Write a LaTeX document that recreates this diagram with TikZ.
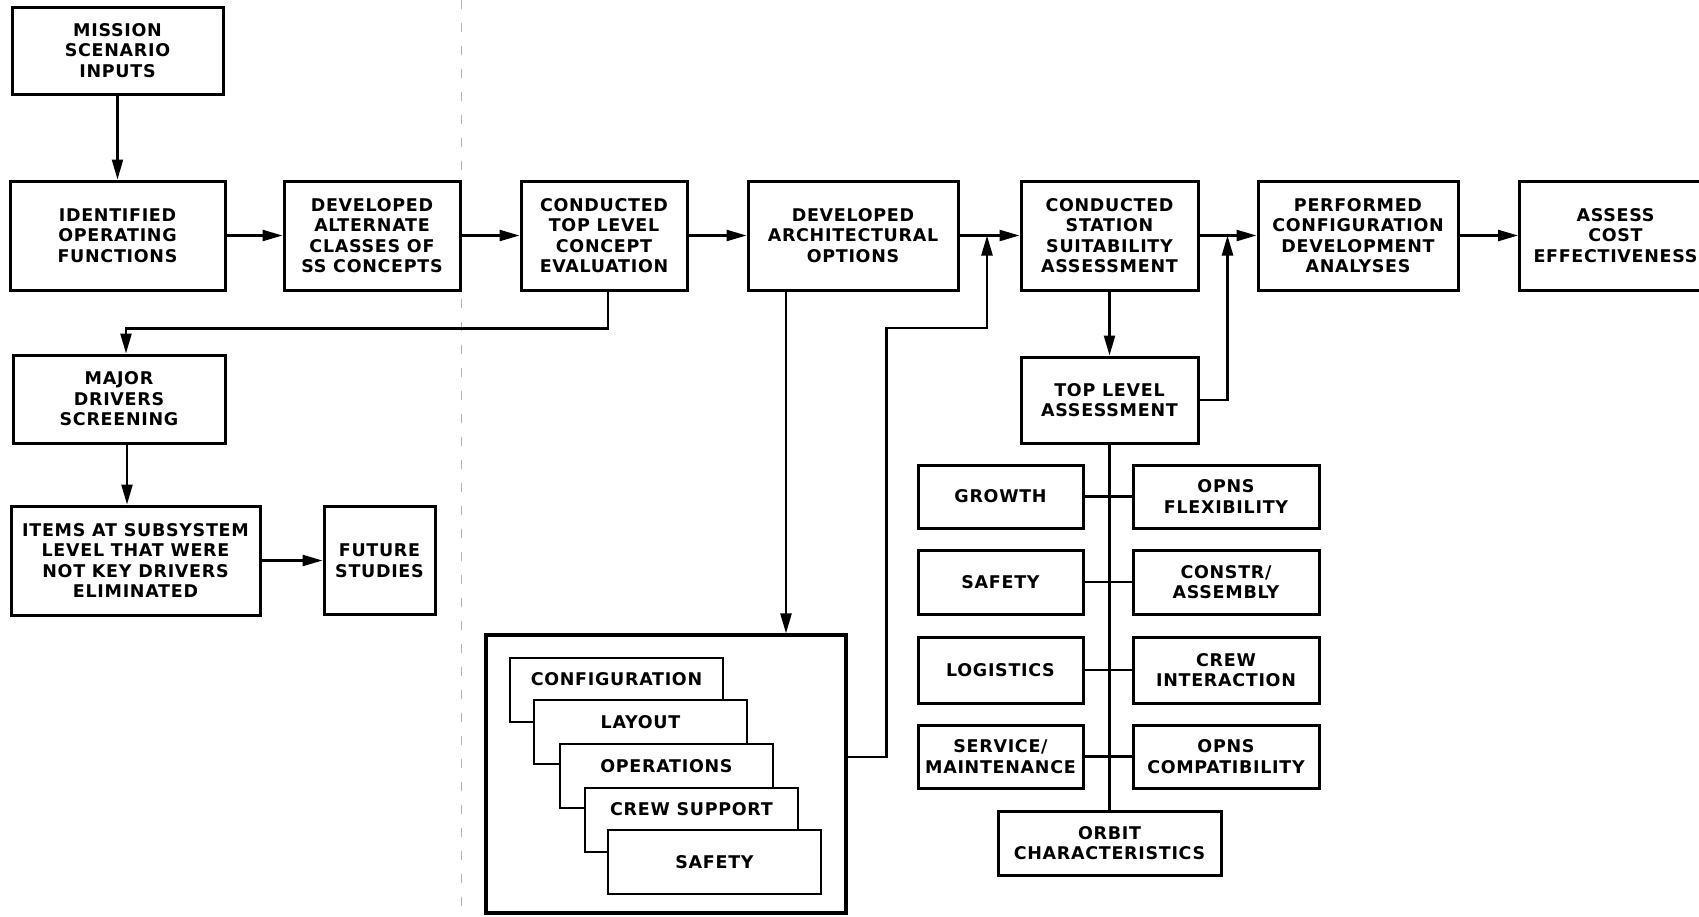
\documentclass[tikz,border=0pt]{standalone}
\usepackage{fontspec}
\setmainfont{DejaVu Sans}[LetterSpace=4]
\usetikzlibrary{arrows.meta}
\newcommand\diagfont{\fontsize{17.5}{20.5}\selectfont\bfseries}
\begin{document}
\begin{tikzpicture}[x=1pt,y=-1pt,
  box/.style={draw, line width=3pt, align=center, inner sep=0pt, font=\diagfont},
  card/.style={draw, line width=2.4pt, fill=white, minimum width=213pt, minimum height=64pt, inner sep=0pt},
  cardtext/.style={font=\diagfont, inner sep=0pt},
  ln/.style={line width=2.4pt},
  arr/.style={line width=2.4pt, -{Triangle[length=20pt,width=11pt]}}
]
\path[use as bounding box, clip] (0,0) rectangle (1699,916);

% faint fold mark running down the sheet
\draw[black!30, line width=0.8pt, dash pattern=on 9pt off 14pt] (461,0) -- (461,916);

% main process chain
\node[box, minimum width=211pt, minimum height=87pt]  (mission) at (117.5,50.5) {MISSION\\SCENARIO\\INPUTS};
\node[box, minimum width=215pt, minimum height=109pt] (ident)   at (117.5,235.5) {IDENTIFIED\\OPERATING\\FUNCTIONS};
\node[box, minimum width=176pt, minimum height=109pt] (devalt)  at (372,235.5) {DEVELOPED\\ALTERNATE\\CLASSES OF\\SS CONCEPTS};
\node[box, minimum width=166pt, minimum height=109pt] (toplev)  at (604,235.5) {CONDUCTED\\TOP LEVEL\\CONCEPT\\EVALUATION};
\node[box, minimum width=210pt, minimum height=109pt] (devarch) at (853,235.5) {DEVELOPED\\ARCHITECTURAL\\OPTIONS};
\node[box, minimum width=177pt, minimum height=109pt] (station) at (1109.5,235.5) {CONDUCTED\\STATION\\SUITABILITY\\ASSESSMENT};
\node[box, minimum width=200pt, minimum height=109pt] (perf)    at (1358,235.5) {PERFORMED\\CONFIGURATION\\DEVELOPMENT\\ANALYSES};
\node[box, minimum width=200pt, minimum height=109pt, anchor=west, text width=180pt, align=left] (assess) at (1518,235.5)
  {\makebox[172pt]{ASSESS}\\\makebox[172pt]{COST}\\\makebox[172pt]{EFFECTIVENESS}};

% screening branch
\node[box, minimum width=212pt, minimum height=88pt]  (major)  at (119,399) {MAJOR\\DRIVERS\\SCREENING};
\node[box, minimum width=249pt, minimum height=109pt] (items)  at (135.5,560.5) {ITEMS AT SUBSYSTEM\\LEVEL THAT WERE\\NOT KEY DRIVERS\\ELIMINATED};
\node[box, minimum width=111pt, minimum height=108pt] (future) at (379.5,560.5) {FUTURE\\STUDIES};

% assessment branch
\node[box, minimum width=177pt, minimum height=86pt] (tla) at (1109.5,400) {TOP LEVEL\\ASSESSMENT};
\node[box, minimum width=165pt, minimum height=63pt] (growth)    at (1000.5,496.5) {GROWTH};
\node[box, minimum width=186pt, minimum height=63pt] (flex)      at (1226,496.5)   {OPNS\\FLEXIBILITY};
\node[box, minimum width=165pt, minimum height=64pt] (safety)    at (1000.5,582)   {SAFETY};
\node[box, minimum width=186pt, minimum height=64pt] (constr)    at (1226,582)     {CONSTR/\\ASSEMBLY};
\node[box, minimum width=165pt, minimum height=66pt] (logistics) at (1000.5,670)   {LOGISTICS};
\node[box, minimum width=186pt, minimum height=66pt] (crewint)   at (1226,670)     {CREW\\INTERACTION};
\node[box, minimum width=165pt, minimum height=63pt] (service)   at (1000.5,756.5) {SERVICE/\\MAINTENANCE};
\node[box, minimum width=186pt, minimum height=63pt] (compat)    at (1226,756.5)   {OPNS\\COMPATIBILITY};
\node[box, minimum width=223pt, minimum height=64pt] (orbit)     at (1109.5,843)   {ORBIT\\CHARACTERISTICS};

% architectural options frame with stacked sheets
\node[draw, line width=3.2pt, minimum width=360pt, minimum height=278pt, inner sep=0pt] (arch) at (666,774) {};
\node[card] (c1) at (616.5,690) {};
\node[cardtext] (c1t) at (616.5,679) {CONFIGURATION};
\node[card] (c2) at (640.5,732) {};
\node[cardtext] (c2t) at (640.5,722) {LAYOUT};
\node[card] (c3) at (666.5,776) {};
\node[cardtext] (c3t) at (666.5,766) {OPERATIONS};
\node[card] (c4) at (691.5,820) {};
\node[cardtext] (c4t) at (691.5,809) {CREW SUPPORT};
\node[card] (c5) at (714.5,862) {};
\node[cardtext] (c5t) at (714.5,862) {SAFETY};

% connectors
\draw[arr] (mission) -- (ident);
\draw[arr] (ident) -- (devalt);
\draw[arr] (devalt) -- (toplev);
\draw[arr] (toplev) -- (devarch);
\draw[arr] (devarch) -- (station);
\draw[arr] (station) -- (perf);
\draw[arr] (perf) -- (assess);

\draw[arr] ([xshift=4pt]toplev.south) -- ++(0,37) -| ([xshift=7pt]major.north);
\draw[arr] ([xshift=8pt]major.south) -- ([xshift=8pt]major.south |- items.north);
\draw[arr] (items) -- (future);

\draw[arr] ([xshift=-67pt]devarch.south) -- ([xshift=-67pt]devarch.south |- arch.north);
\coordinate (fbA) at (987,328);
\draw[arr] ([yshift=17pt]arch.east) -- ++(39,0) |- (fbA) -- (fbA |- station.west);

\draw[arr] (station) -- (tla);
\draw[arr] (tla.east) -- ++(28,0) coordinate (fbB) -- (fbB |- station.east);

\draw[ln] (tla.south) -- (tla.south |- orbit.north);
\draw[ln] (growth) -- (flex);
\draw[ln] (safety) -- (constr);
\draw[ln] (logistics) -- (crewint);
\draw[ln] (service) -- (compat);
\end{tikzpicture}
\end{document}
